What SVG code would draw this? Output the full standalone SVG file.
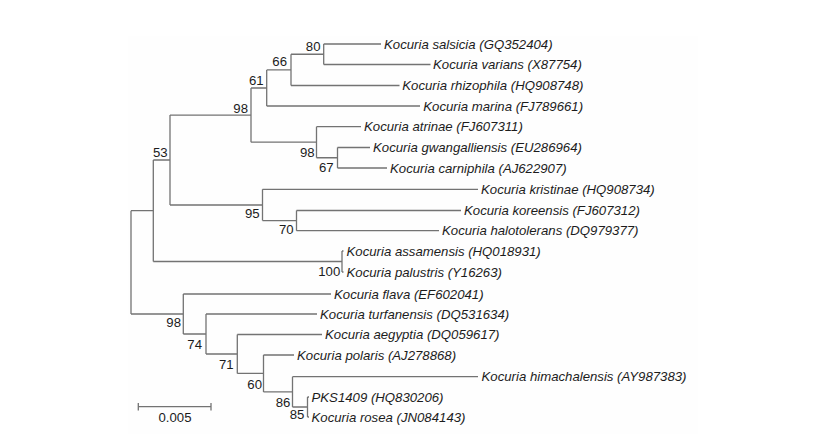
<svg xmlns="http://www.w3.org/2000/svg" width="834" height="446" viewBox="0 0 834 446">
<style>
.e{fill:none;stroke:#737373;stroke-width:1.3}
.t{font-family:"Liberation Sans",Arial,sans-serif;font-size:13.2px;fill:#1c1c1c}
.l{font-style:italic}
.b{text-anchor:end}
</style>
<rect width="834" height="446" fill="#fff"/>
<rect x="128" y="36" width="570" height="398" fill="#fefefe"/>
<g id="connectors" class="e">
<path d="M323.7,44H381M323.7,64.5H430.5M323.7,44V64.5M291,54.25H323.7M291,85.5H399.5M291,54.25V85.5M266.7,69.9H291M266.7,106H420M266.7,69.9V106M251,88H266.7"/>
<path d="M251,88V142.2M251,142.2H316.5M316.5,126.7V157.75M316.5,126.7H361M316.5,157.75H337.5M337.5,147.5V168M337.5,147.5H370M337.5,168H387"/>
<path d="M170,115.1H251M170,115.1V205M170,205H262.5M262.5,189.3V220.6M262.5,189.3H478M262.5,220.6H296.5M296.5,210.5V230.7M296.5,210.5H461M296.5,230.7H439"/>
<path d="M153.3,160H170M153.3,160V261.5M153.3,261.5H342M342,251V272M342,251H343.5M342,272H343.5"/>
<path d="M131,210.7H153.3M131,210.7V314M131,314H183.3M183.3,294V334M183.3,294H331M183.3,334H206M206,314V354M206,314H317M206,354H237.3M237.3,334.5V373.4M237.3,334.5H322M237.3,373.4H263.5M263.5,355V391.9M263.5,355H294M263.5,391.9H292.5M292.5,376.7V407M292.5,376.7H478M292.5,407H307.5M307.5,397V417M307.5,397H309M307.5,417H309"/>
</g>
<g id="scale-bar">
<path class="e" d="M138.3,406.7H211M138.3,403V410.5M211,403V410.5"/>
<text class="t" x="175" y="421.7" text-anchor="middle">0.005</text>
</g>
<g id="leaf-salsicia"><text class="t l" x="384" y="48.5">Kocuria salsicia (GQ352404)</text></g>
<g id="leaf-varians"><text class="t l" x="433" y="69">Kocuria varians (X87754)</text></g>
<g id="leaf-rhizophila"><text class="t l" x="402.3" y="90">Kocuria rhizophila (HQ908748)</text></g>
<g id="leaf-marina"><text class="t l" x="423.3" y="110.5">Kocuria marina (FJ789661)</text></g>
<g id="leaf-atrinae"><text class="t l" x="364" y="131.2">Kocuria atrinae (FJ607311)</text></g>
<g id="leaf-gwangalliensis"><text class="t l" x="373" y="152">Kocuria gwangalliensis (EU286964)</text></g>
<g id="leaf-carniphila"><text class="t l" x="390" y="172.5">Kocuria carniphila (AJ622907)</text></g>
<g id="leaf-kristinae"><text class="t l" x="481" y="193.8">Kocuria kristinae (HQ908734)</text></g>
<g id="leaf-koreensis"><text class="t l" x="464" y="215">Kocuria koreensis (FJ607312)</text></g>
<g id="leaf-halotolerans"><text class="t l" x="442" y="235.2">Kocuria halotolerans (DQ979377)</text></g>
<g id="leaf-assamensis"><text class="t l" x="346.5" y="255.5">Kocuria assamensis (HQ018931)</text></g>
<g id="leaf-palustris"><text class="t l" x="346.5" y="276.5">Kocuria palustris (Y16263)</text></g>
<g id="leaf-flava"><text class="t l" x="334" y="298.5">Kocuria flava (EF602041)</text></g>
<g id="leaf-turfanensis"><text class="t l" x="320" y="318.5">Kocuria turfanensis (DQ531634)</text></g>
<g id="leaf-aegyptia"><text class="t l" x="325" y="339">Kocuria aegyptia (DQ059617)</text></g>
<g id="leaf-polaris"><text class="t l" x="297" y="359.5">Kocuria polaris (AJ278868)</text></g>
<g id="leaf-himachalensis"><text class="t l" x="481.5" y="381.2">Kocuria himachalensis (AY987383)</text></g>
<g id="leaf-pks1409"><text class="t l" x="311.5" y="401.5">PKS1409 (HQ830206)</text></g>
<g id="leaf-rosea"><text class="t l" x="311.5" y="421.5">Kocuria rosea (JN084143)</text></g>
<g id="node-80"><text class="t b" x="320.5" y="51">80</text></g>
<g id="node-66"><text class="t b" x="287" y="66">66</text></g>
<g id="node-61"><text class="t b" x="263.7" y="85">61</text></g>
<g id="node-98a"><text class="t b" x="248" y="112.7">98</text></g>
<g id="node-53"><text class="t b" x="167.7" y="157.3">53</text></g>
<g id="node-98b"><text class="t b" x="314.7" y="157.3">98</text></g>
<g id="node-67"><text class="t b" x="333.7" y="171.7">67</text></g>
<g id="node-95"><text class="t b" x="259.7" y="218.3">95</text></g>
<g id="node-70"><text class="t b" x="293.7" y="234">70</text></g>
<g id="node-100"><text class="t b" x="340.3" y="276">100</text></g>
<g id="node-98c"><text class="t b" x="181" y="326.7">98</text></g>
<g id="node-74"><text class="t b" x="202" y="349">74</text></g>
<g id="node-71"><text class="t b" x="233.7" y="369.3">71</text></g>
<g id="node-60"><text class="t b" x="262" y="389.3">60</text></g>
<g id="node-86"><text class="t b" x="290.3" y="407.3">86</text></g>
<g id="node-85"><text class="t b" x="304.3" y="419.3">85</text></g>
</svg>
